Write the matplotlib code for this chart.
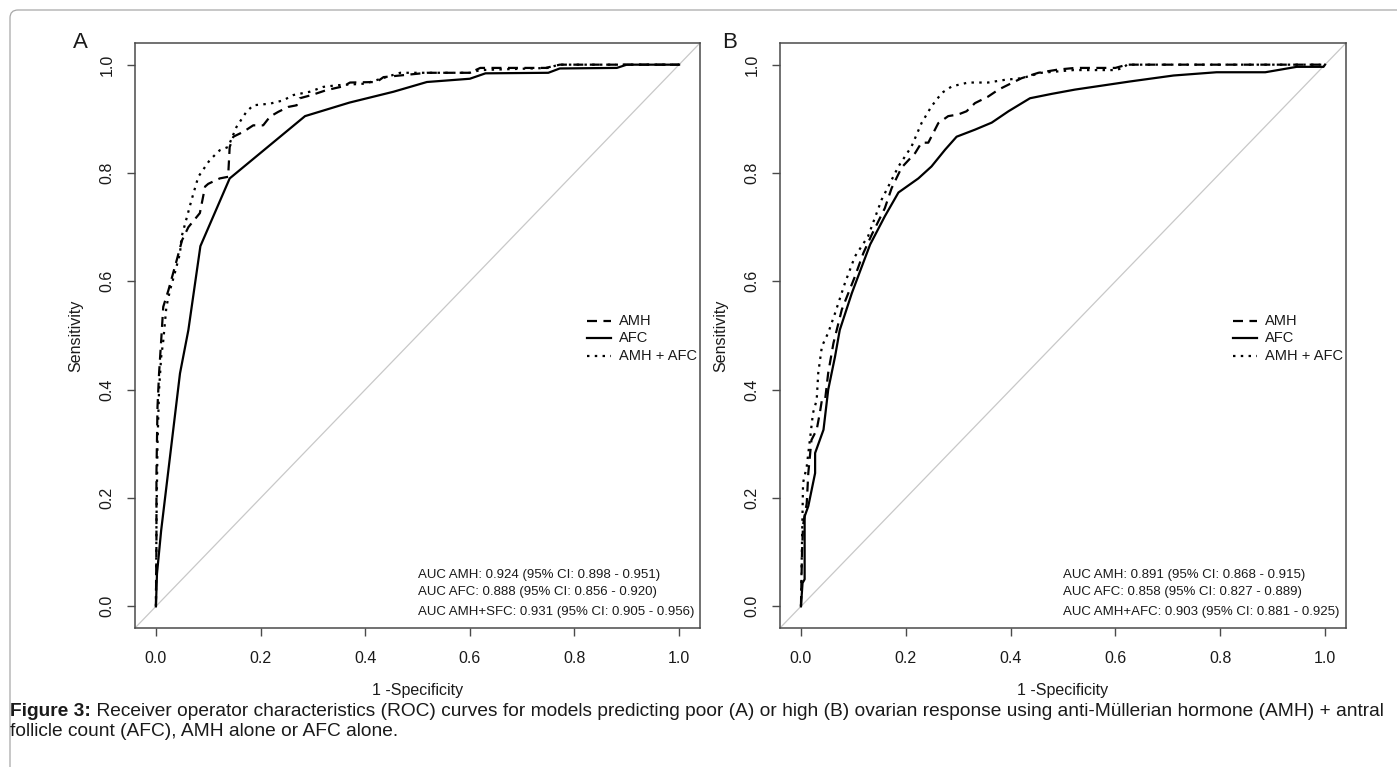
import matplotlib
matplotlib.use("Agg")
import matplotlib.pyplot as plt
from matplotlib.patches import FancyBboxPatch
from matplotlib.transforms import IdentityTransform

plt.rcParams['font.family'] = ['Liberation Sans', 'DejaVu Sans']

# ---------------- data (1 - specificity, sensitivity) ----------------
# Panel A: poor response
amh_a_fpr = [0, 0.001, 0.001, 0.003, 0.006, 0.010, 0.014, 0.024, 0.040, 0.050, 0.062, 0.084, 0.094, 0.100,
             0.122, 0.138, 0.141, 0.148, 0.167, 0.186, 0.205, 0.218, 0.234, 0.253, 0.269, 0.275, 0.298,
             0.326, 0.358, 0.371, 0.422, 0.435, 0.518, 0.600, 0.620, 0.745, 0.772, 1.0]
amh_a_tpr = [0, 0.120, 0.245, 0.368, 0.430, 0.490, 0.553, 0.584, 0.640, 0.676, 0.700, 0.726, 0.775, 0.780,
             0.790, 0.793, 0.848, 0.867, 0.876, 0.888, 0.888, 0.904, 0.913, 0.922, 0.925, 0.938, 0.944,
             0.953, 0.960, 0.967, 0.968, 0.977, 0.985, 0.985, 0.994, 0.994, 1.0, 1.0]

afc_a_fpr = [0, 0.002, 0.010, 0.046, 0.062, 0.085, 0.141, 0.285, 0.370, 0.454, 0.518, 0.600, 0.630,
             0.750, 0.772, 0.881, 0.900, 1.0]
afc_a_tpr = [0, 0.060, 0.140, 0.430, 0.510, 0.665, 0.790, 0.905, 0.930, 0.950, 0.968, 0.974, 0.984,
             0.985, 0.993, 0.994, 1.0, 1.0]

comb_a_fpr = [0, 0.001, 0.003, 0.006, 0.010, 0.014, 0.020, 0.027, 0.036, 0.046, 0.049, 0.068, 0.081,
              0.103, 0.122, 0.138, 0.154, 0.173, 0.186, 0.218, 0.243, 0.263, 0.294, 0.320, 0.346, 0.400,
              0.450, 0.467, 0.600, 0.620, 0.750, 0.770, 1.0]
comb_a_tpr = [0, 0.150, 0.300, 0.400, 0.460, 0.490, 0.553, 0.584, 0.615, 0.652, 0.682, 0.750, 0.793,
              0.824, 0.842, 0.848, 0.885, 0.913, 0.925, 0.928, 0.934, 0.944, 0.950, 0.959, 0.962, 0.965,
              0.980, 0.985, 0.985, 0.990, 0.994, 1.0, 1.0]

# Panel B: high response
amh_b_fpr = [0, 0.002, 0.004, 0.011, 0.014, 0.020, 0.030, 0.036, 0.040, 0.046, 0.052, 0.062, 0.078,
             0.103, 0.119, 0.135, 0.160, 0.173, 0.192, 0.218, 0.230, 0.243, 0.262, 0.281, 0.300, 0.316,
             0.332, 0.357, 0.377, 0.402, 0.421, 0.453, 0.491, 0.523, 0.600, 0.622, 1.0]
amh_b_tpr = [0, 0.100, 0.150, 0.190, 0.246, 0.307, 0.326, 0.357, 0.381, 0.381, 0.431, 0.486, 0.548,
             0.609, 0.652, 0.686, 0.735, 0.772, 0.810, 0.837, 0.856, 0.856, 0.892, 0.905, 0.908, 0.914,
             0.929, 0.941, 0.954, 0.966, 0.975, 0.985, 0.991, 0.994, 0.994, 1.0, 1.0]

afc_b_fpr = [0, 0.003, 0.007, 0.007, 0.014, 0.027, 0.027, 0.043, 0.052, 0.065, 0.074, 0.097, 0.116,
             0.132, 0.160, 0.186, 0.224, 0.249, 0.275, 0.297, 0.332, 0.364, 0.396, 0.437, 0.478, 0.523,
             0.628, 0.711, 0.793, 0.886, 0.946, 0.997, 1.0]
afc_b_tpr = [0, 0.043, 0.050, 0.166, 0.185, 0.246, 0.283, 0.326, 0.400, 0.461, 0.510, 0.578, 0.627,
             0.668, 0.720, 0.764, 0.790, 0.812, 0.843, 0.867, 0.880, 0.893, 0.914, 0.938, 0.946, 0.954,
             0.969, 0.980, 0.986, 0.986, 0.996, 0.996, 1.0]

comb_b_fpr = [0, 0.002, 0.004, 0.011, 0.017, 0.023, 0.030, 0.033, 0.040, 0.052, 0.065, 0.084, 0.103,
              0.128, 0.154, 0.186, 0.211, 0.230, 0.249, 0.269, 0.288, 0.319, 0.357, 0.389, 0.421, 0.459,
              0.520, 0.600, 0.615, 0.622, 1.0]
comb_b_tpr = [0, 0.120, 0.228, 0.258, 0.307, 0.357, 0.381, 0.431, 0.480, 0.505, 0.541, 0.597, 0.646,
              0.683, 0.751, 0.812, 0.849, 0.892, 0.923, 0.948, 0.960, 0.967, 0.967, 0.972, 0.975, 0.985,
              0.990, 0.990, 0.994, 1.0, 1.0]

tick_values = [0.0, 0.2, 0.4, 0.6, 0.8, 1.0]
tick_labels = ["0.0", "0.2", "0.4", "0.6", "0.8", "1.0"]
legend_labels = ["AMH", "AFC", "AMH + AFC"]
auc_a = ["AUC AMH: 0.924 (95% CI: 0.898 - 0.951)",
         "AUC AFC: 0.888 (95% CI: 0.856 - 0.920)",
         "AUC AMH+SFC: 0.931 (95% CI: 0.905 - 0.956)"]
auc_b = ["AUC AMH: 0.891 (95% CI: 0.868 - 0.915)",
         "AUC AFC: 0.858 (95% CI: 0.827 - 0.889)",
         "AUC AMH+AFC: 0.903 (95% CI: 0.881 - 0.925)"]
panel_letters = ["A", "B"]
caption_bold = "Figure 3:"
caption_line1 = (" Receiver operator characteristics (ROC) curves for models predicting poor (A) or high (B) "
                 "ovarian response using anti-Müllerian hormone (AMH) + antral")
caption_line2 = "follicle count (AFC), AMH alone or AFC alone."

# ---------------- styles ----------------
W, H = 1397, 767
LW = 1.6
DASH = (0, (4.5, 2.9))
DOT = (0, (1.1, 2.4))
styles = [DASH, '-', DOT]
SPINE = '#4a4a4a'
TXT = '#1a1a1a'

fig = plt.figure(figsize=(W / 100, H / 100), dpi=100)

# outer rounded border
border = FancyBboxPatch((10, -60), 1450, 767 - 10 + 60, boxstyle="round,pad=0,rounding_size=8",
                        transform=IdentityTransform(), fill=False, edgecolor='#a8a8a8', linewidth=0.9)
fig.patches.append(border)

axA = fig.add_axes([135 / W, 1 - 628 / H, 565 / W, 585 / H])
axB = fig.add_axes([780 / W, 1 - 628 / H, 566 / W, 585 / H])

panels = [
    (axA, [(amh_a_fpr, amh_a_tpr), (afc_a_fpr, afc_a_tpr), (comb_a_fpr, comb_a_tpr)], auc_a, 80),
    (axB, [(amh_b_fpr, amh_b_tpr), (afc_b_fpr, afc_b_tpr), (comb_b_fpr, comb_b_tpr)], auc_b, 730),
]

for i, (ax, curves, auc, letter_x) in enumerate(panels):
    ax.set_xlim(-0.04, 1.04)
    ax.set_ylim(-0.04, 1.04)
    ax.plot([-0.04, 1.04], [-0.04, 1.04], color='#c8c8c8', lw=0.9, zorder=1)
    for (fx, fy), ls in zip(curves, styles):
        ax.plot(fx, fy, color='black', lw=LW, linestyle=ls, solid_joinstyle='round',
                dash_capstyle='butt', zorder=3)
    ax.set_xticks(tick_values)
    ax.set_xticklabels(tick_labels)
    ax.set_yticks(tick_values)
    ax.set_yticklabels(tick_labels, rotation=90, va='center')
    ax.tick_params(axis='both', direction='out', length=5.8, width=1.0, color=SPINE,
                   labelsize=11.5, labelcolor=TXT)
    ax.tick_params(axis='x', pad=11)
    ax.tick_params(axis='y', pad=9)
    for s in ax.spines.values():
        s.set_color(SPINE)
        s.set_linewidth(1.1)
    ax.text(0.5, -0.106, "1 -Specificity", transform=ax.transAxes, ha='center', va='center',
            fontsize=11.5, color=TXT)
    ax.text(-0.104, 0.5, "Sensitivity", transform=ax.transAxes, ha='center', va='center',
            rotation=90, fontsize=11.5, color=TXT)
    # legend
    for j, (lab, ls) in enumerate(zip(legend_labels, styles)):
        yy = [0.5253, 0.4952, 0.465][j]
        ax.plot([0.800, 0.842], [yy, yy], transform=ax.transAxes, color='black', lw=LW,
                linestyle=ls, dash_capstyle='butt')
        ax.text(0.857, yy, lab, transform=ax.transAxes, ha='left', va='center',
                fontsize=10.5, color=TXT)
    # AUC annotations
    for j, line in enumerate(auc):
        yy = [0.0906, 0.061, 0.027][j]
        ax.text(0.500, yy, line, transform=ax.transAxes, ha='left', va='center',
                fontsize=9.5, color=TXT)
    fig.text(letter_x / W, 1 - 43 / H, panel_letters[i], ha='center', va='center',
             fontsize=16, color=TXT)

# caption (fit line 1 to the available width)
renderer = fig.canvas.get_renderer()
size = 12.0
tb = fig.text(10 / W, 1 - 712 / H, caption_bold, fontsize=size, fontweight='bold', ha='left',
              va='center', color=TXT)
tr = fig.text(0, 1 - 712 / H, caption_line1, fontsize=size, ha='left', va='center', color=TXT)
total = tb.get_window_extent(renderer).width + tr.get_window_extent(renderer).width
size = size * 1378 / total
tb.set_fontsize(size)
tr.set_fontsize(size)
bw = tb.get_window_extent(renderer).width
tr.set_x((10 + bw) / W)
fig.text(10 / W, 1 - 731 / H, caption_line2, fontsize=size, ha='left', va='center', color=TXT)

fig.savefig("out.png", dpi=100)
